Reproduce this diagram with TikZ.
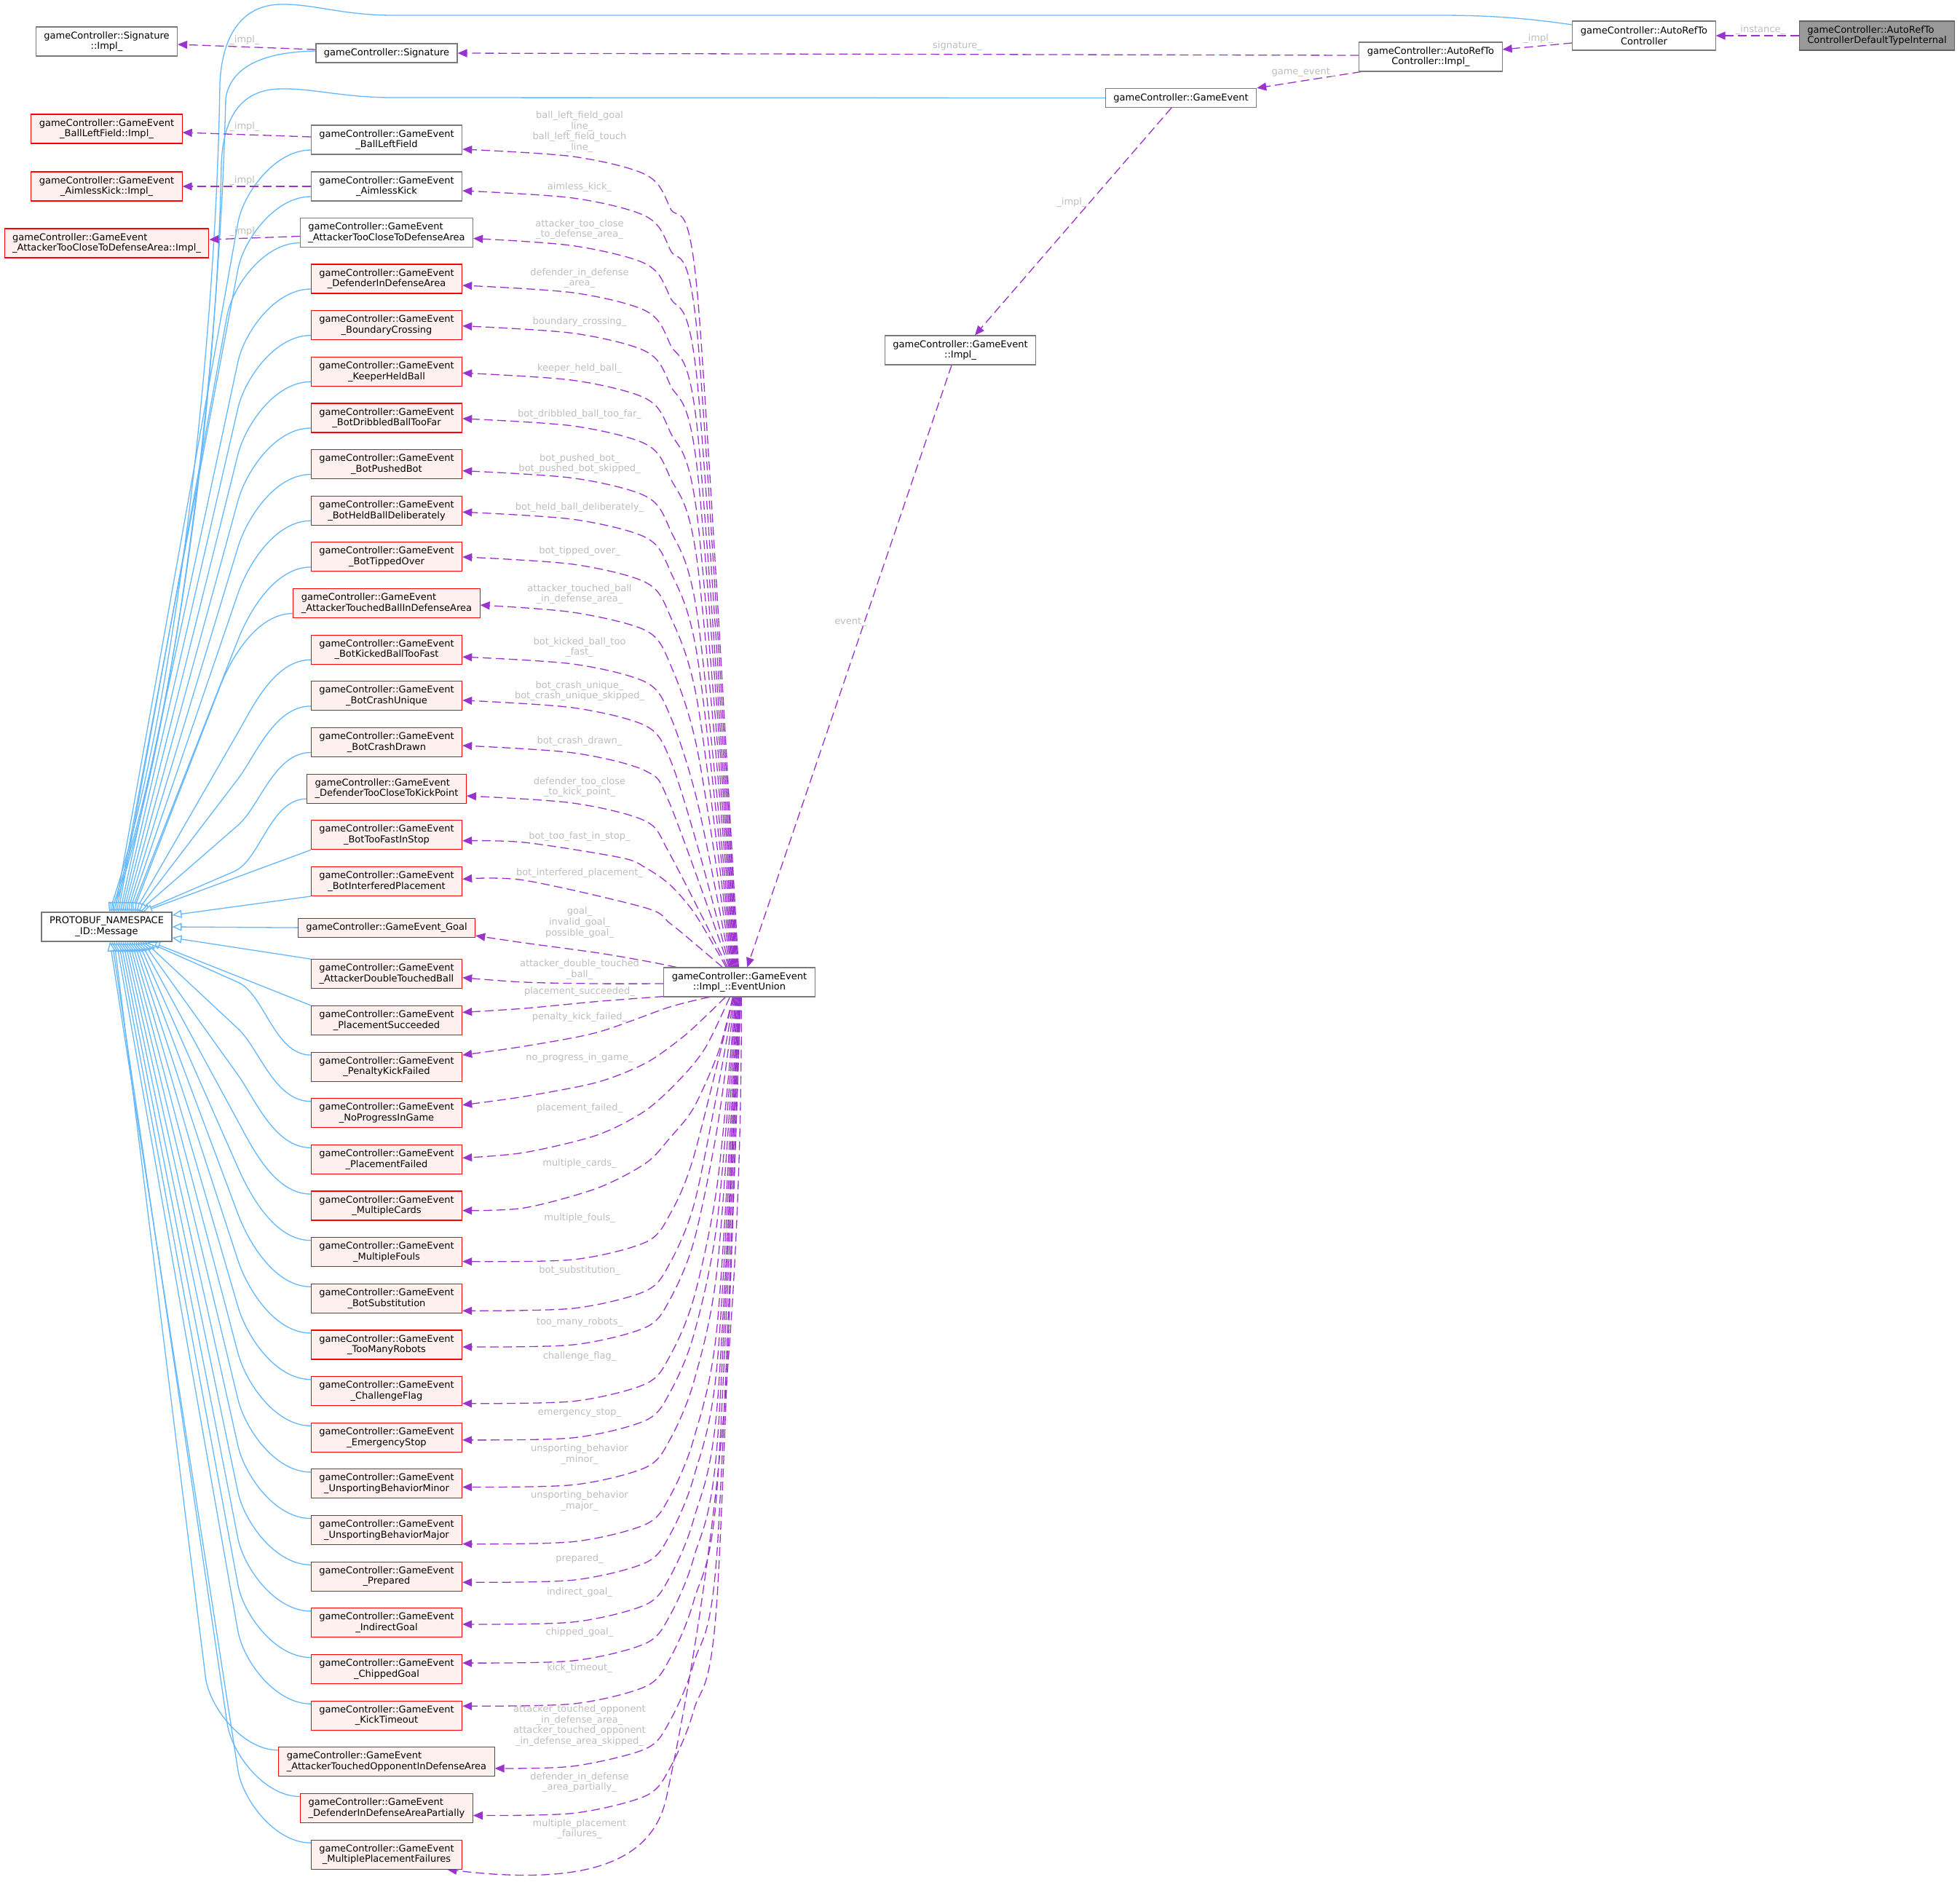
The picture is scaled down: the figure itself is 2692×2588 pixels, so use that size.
\documentclass[tikz,border=0pt]{standalone}
\usepackage{fontspec}
\setmainfont{DejaVu Sans}
\usetikzlibrary{arrows.meta,calc}
\definecolor{purp}{HTML}{9A32CD}
\definecolor{blu}{HTML}{63B8FF}
\definecolor{lblgray}{HTML}{BEBEBE}
\definecolor{boxgray}{HTML}{7A7A7A}
\definecolor{redfill}{HTML}{FFF0F0}
\definecolor{grayfill}{HTML}{999999}
\newcommand\nodefont{\fontsize{6.5}{7.35}\selectfont}
\pgfdeclarelayer{bg}\pgfsetlayers{bg,main}
% blue inheritance edge from an upper node
\newcommand\Bup[2]{%
  \coordinate (w) at ($(#1.west)+(0,14)$);
  \coordinate (t) at ($(pb.north)+(#2,0)$);
  \coordinate (q) at ($(w)+(-100,100)$);
  \draw[inh] (w) .. controls +(-50,0) and ($(q)!-20pt!(t)$) .. (q) -- (t);}
% blue inheritance edge from a lower node
\newcommand\Bdn[2]{%
  \coordinate (w) at ($(#1.west)+(0,-16)$);
  \coordinate (t) at ($(pb.south)+(#2,0)$);
  \coordinate (q) at ($(w)+(-100,-100)$);
  \draw[inh] (w) .. controls +(-50,0) and ($(q)!-20pt!(t)$) .. (q) -- (t);}
% member edge from EventUnion to an upper node
\newcommand\Eup[5]{%
  \coordinate (e) at ($(#1.east)+(0,#2)$);
  \coordinate (s) at ($(eu.north west)+(#4,0)$);
  \ifnum#5=1
    \draw[mem] plot[smooth] coordinates {(s) (958,{#3+200}) (920,{#3+80}) (887,{#3+35}) (787,{#3+10}) (e)};
  \else
    \draw[mem] plot[smooth] coordinates {(s) (920,{#3+80}) (887,{#3+35}) (787,{#3+10}) (e)};
  \fi}
% member edge from EventUnion to a lower node
\newcommand\Edn[5]{%
  \coordinate (e) at ($(#1.east)+(0,#2)$);
  \coordinate (s) at ($(eu.south west)+(#4,0)$);
  \ifnum#5=1
    \draw[mem] plot[smooth] coordinates {(s) (985,{#3-300}) (953,{#3-145}) (920,{#3-65}) (887,{#3-27}) (787,{#3-3}) (e)};
  \else
    \draw[mem] plot[smooth] coordinates {(s) (953,{#3-145}) (920,{#3-65}) (887,{#3-27}) (787,{#3-3}) (e)};
  \fi}
\begin{document}
\begin{tikzpicture}[x=0.5pt,y=-0.5pt,
  box/.style={draw=boxgray, fill=white, line width=0.55pt, align=center, inner xsep=5.5pt, inner ysep=0pt, minimum height=20pt, font=\nodefont},
  redbox/.style={box, draw=red, fill=redfill},
  graybox/.style={box, draw=boxgray!80!black, fill=grayfill},
  one/.style={minimum height=13pt},
  mem/.style={draw=purp, line width=0.65pt, dash pattern=on 6pt off 3pt, -{Triangle[length=6.5pt,width=5.5pt]}},
  inh/.style={draw=blu, line width=0.65pt, -{Triangle[length=6.5pt,width=5.5pt,fill=white]}},
  lbl/.style={text=lblgray, align=center, font=\nodefont, inner sep=0pt}]
\useasboundingbox (0,0) rectangle (2692,2588);
\begin{pgfonlayer}{bg}
\fill[white] (0,0) rectangle (2692,2588);
\end{pgfonlayer}

% ---------- left column ----------
\node[box] (sigimpl) at (146.5,57) {gameController::Signature\\::Impl\_};
\node[redbox] (blfimpl) at (146.5,177) {gameController::GameEvent\\\_BallLeftField::Impl\_};
\node[redbox] (akimpl) at (146.5,256) {gameController::GameEvent\\\_AimlessKick::Impl\_};
\node[redbox,align=left] (atcimpl) at (146.5,334) {gameController::GameEvent\\\_AttackerTooCloseToDefenseArea::Impl\_};
\node[box] (pb) at (146.5,1273) {PROTOBUF\_NAMESPACE\\\_ID::Message};

% ---------- middle column ----------
\node[box,one] (sig) at (531,73) {gameController::Signature};
\node[box] (blf) at (531,192) {gameController::GameEvent\\\_BallLeftField};
\node[box] (ak) at (531,256) {gameController::GameEvent\\\_AimlessKick};
\node[box,align=left] (atc) at (531,319.5) {gameController::GameEvent\\\_AttackerTooCloseToDefenseArea};
\node[redbox] (dida) at (531,383) {gameController::GameEvent\\\_DefenderInDefenseArea};
\node[redbox] (bc) at (531,446.65) {gameController::GameEvent\\\_BoundaryCrossing};
\node[redbox] (khb) at (531,510.3) {gameController::GameEvent\\\_KeeperHeldBall};
\node[redbox] (bdbtf) at (531,573.95) {gameController::GameEvent\\\_BotDribbledBallTooFar};
\node[redbox] (bpb) at (531,637.6) {gameController::GameEvent\\\_BotPushedBot};
\node[redbox] (bhbd) at (531,701.25) {gameController::GameEvent\\\_BotHeldBallDeliberately};
\node[redbox] (bto) at (531,764.9) {gameController::GameEvent\\\_BotTippedOver};
\node[redbox,align=left] (atbida) at (531,828.55) {gameController::GameEvent\\\_AttackerTouchedBallInDefenseArea};
\node[redbox] (bkbtf) at (531,892.2) {gameController::GameEvent\\\_BotKickedBallTooFast};
\node[redbox] (bcu) at (531,955.85) {gameController::GameEvent\\\_BotCrashUnique};
\node[redbox] (bcd) at (531,1019.5) {gameController::GameEvent\\\_BotCrashDrawn};
\node[redbox,align=left] (dtctkp) at (531,1083.15) {gameController::GameEvent\\\_DefenderTooCloseToKickPoint};
\node[redbox] (btfis) at (531,1146.8) {gameController::GameEvent\\\_BotTooFastInStop};
\node[redbox] (bip) at (531,1210.45) {gameController::GameEvent\\\_BotInterferedPlacement};
\node[redbox,one] (goal) at (531,1274.1) {gameController::GameEvent\_Goal};
\node[redbox] (adtb) at (531,1337.75) {gameController::GameEvent\\\_AttackerDoubleTouchedBall};
\node[redbox] (ps) at (531,1401.4) {gameController::GameEvent\\\_PlacementSucceeded};
\node[redbox] (pkf) at (531,1465.05) {gameController::GameEvent\\\_PenaltyKickFailed};
\node[redbox] (npig) at (531,1528.7) {gameController::GameEvent\\\_NoProgressInGame};
\node[redbox] (pf) at (531,1592.35) {gameController::GameEvent\\\_PlacementFailed};
\node[redbox] (mc) at (531,1656) {gameController::GameEvent\\\_MultipleCards};
\node[redbox] (mf) at (531,1719.65) {gameController::GameEvent\\\_MultipleFouls};
\node[redbox] (bs) at (531,1783.3) {gameController::GameEvent\\\_BotSubstitution};
\node[redbox] (tmr) at (531,1846.95) {gameController::GameEvent\\\_TooManyRobots};
\node[redbox] (cf) at (531,1910.6) {gameController::GameEvent\\\_ChallengeFlag};
\node[redbox] (es) at (531,1974.25) {gameController::GameEvent\\\_EmergencyStop};
\node[redbox] (ubmin) at (531,2037.9) {gameController::GameEvent\\\_UnsportingBehaviorMinor};
\node[redbox] (ubmaj) at (531,2101.55) {gameController::GameEvent\\\_UnsportingBehaviorMajor};
\node[redbox] (prep) at (531,2165.2) {gameController::GameEvent\\\_Prepared};
\node[redbox] (ig) at (531,2228.85) {gameController::GameEvent\\\_IndirectGoal};
\node[redbox] (cg) at (531,2292.5) {gameController::GameEvent\\\_ChippedGoal};
\node[redbox] (kt) at (531,2356.15) {gameController::GameEvent\\\_KickTimeout};
\node[redbox,align=left] (atoida) at (531,2419.8) {gameController::GameEvent\\\_AttackerTouchedOpponentInDefenseArea};
\node[redbox,align=left] (didap) at (531,2483.45) {gameController::GameEvent\\\_DefenderInDefenseAreaPartially};
\node[redbox] (mpf) at (531,2547.1) {gameController::GameEvent\\\_MultiplePlacementFailures};

% ---------- right part ----------
\node[box] (eu) at (1015.5,1349) {gameController::GameEvent\\::Impl\_::EventUnion};
\node[box] (geimpl) at (1319,481) {gameController::GameEvent\\::Impl\_};
\node[box,one] (ge) at (1622,134.5) {gameController::GameEvent};
\node[box] (arimpl) at (1965,78) {gameController::AutoRefTo\\Controller::Impl\_};
\node[box] (ar) at (2258,49) {gameController::AutoRefTo\\Controller};
\node[graybox,align=left] (dti) at (2578,49) {gameController::AutoRefTo\\ControllerDefaultTypeInternal};

\begin{pgfonlayer}{bg}
% ---------- blue inheritance edges ----------
\coordinate (a0) at ($(ar.west)+(0,-15)$);
\coordinate (t0) at ($(pb.north)+(3.5,0)$);
\draw[inh] (a0) .. controls (2090,24) and (2040,21) .. (1977,21) -- (540,21)
   .. controls (470,21) and (430,5) .. (385,6)
   .. controls (335,7) and (305,45) .. (302,115)
   .. controls (296,500) and (235,1000) .. (t0);
\coordinate (t1) at ($(pb.north)+(6,0)$);
\draw[inh] (ge.west) -- (540,134)
   .. controls (470,134) and (430,121) .. (385,122)
   .. controls (335,123) and (307,155) .. (304,225)
   .. controls (298,560) and (238,1000) .. (t1);
\coordinate (a2) at ($(sig.west)+(0,-3)$);
\coordinate (t2) at ($(pb.north)+(8.5,0)$);
\draw[inh] (a2) .. controls (375,71) and (318,85) .. (310,135)
   .. controls (301,520) and (240,1000) .. (t2);
\Bup{blf}{11}
\Bup{ak}{13.5}
\Bup{atc}{16}
\Bup{dida}{18.5}
\Bup{bc}{21}
\Bup{khb}{23.5}
\Bup{bdbtf}{26}
\Bup{bpb}{28.5}
\Bup{bhbd}{31}
\Bup{bto}{33.5}
\Bup{atbida}{36}
\Bup{bkbtf}{38.5}
\Bup{bcu}{41}
\Bup{bcd}{43.5}
\Bup{dtctkp}{46}
\draw[inh] (btfis.south west) -- ($(pb.north)+(49.5,0)$);
\draw[inh] (bip.south west) -- ($(pb.east)+(0,-16)$);
\draw[inh] (goal.west) -- (pb.east);
\draw[inh] (adtb.north west) -- ($(pb.east)+(0,15)$);
\draw[inh] (ps.north west) -- ($(pb.south)+(60.5,0)$);
\Bdn{pkf}{55.5}
\Bdn{npig}{52.5}
\Bdn{pf}{49.5}
\Bdn{mc}{46.5}
\Bdn{mf}{43.5}
\Bdn{bs}{40.5}
\Bdn{tmr}{37.5}
\Bdn{cf}{34.5}
\Bdn{es}{31.5}
\Bdn{ubmin}{28.5}
\Bdn{ubmaj}{25.5}
\Bdn{prep}{22.5}
\Bdn{ig}{19.5}
\Bdn{cg}{16.5}
\Bdn{kt}{13.5}
\Bdn{atoida}{10.5}
\Bdn{didap}{7.5}
\Bdn{mpf}{4.5}

% ---------- purple member edges ----------
\draw[mem] (dti.west) -- (ar.east);
\draw[mem] ($(ar.west)+(0,10)$) -- ($(arimpl.east)+(0,-10)$);
\draw[mem] ($(arimpl.west)+(0,-2)$) -- (sig.east);
\draw[mem] ($(arimpl.south west)+(3,0)$) -- (ge.north east);
\draw[mem] ($(ge.south)+(-13,0)$) -- ($(geimpl.north)+(20,0)$);
\draw[mem] ($(geimpl.south)+(-12,0)$) -- ($(eu.north west)+(115,0)$);
\draw[mem] ($(sig.west)+(0,-5)$) -- ($(sigimpl.east)+(0,4)$);
\draw[mem] ($(blf.west)+(0,-4)$) -- ($(blfimpl.east)+(0,5)$);
\draw[mem] (ak.west) -- (akimpl.east);
\draw[mem] ($(atc.west)+(0,5)$) -- ($(atcimpl.east)+(0,-5)$);

\Eup{blf}{13}{205}{103}{1}
\Eup{ak}{6}{262}{102}{1}
\Eup{atc}{8}{327.5}{101}{1}
\Eup{dida}{9}{392}{100}{1}
\Eup{bc}{1}{447.65}{99}{1}
\Eup{khb}{2}{512.3}{98}{1}
\Eup{bdbtf}{1}{575}{97}{1}
\Eup{bpb}{9}{646.6}{96}{1}
\Eup{bhbd}{2}{703.25}{95}{1}
\Eup{bto}{0}{765}{94}{1}
\Eup{atbida}{2.5}{831}{93}{1}
\Eup{bkbtf}{10}{902}{92}{1}
\Eup{bcu}{6}{962}{91}{1}
\Eup{bcd}{4.5}{1024}{90}{0}
\Eup{dtctkp}{10}{1093}{88}{0}
% near nodes
\coordinate (e) at ($(btfis.east)+(0,8)$);
\coordinate (s) at ($(eu.north west)+(86,0)$);
\draw[mem] plot[smooth] coordinates {(s) (987,1310) (953,1253) (920,1215) (887,1192) (853,1178) (720,1157) (e)};
\coordinate (e) at ($(bip.east)+(0,-3)$);
\coordinate (s) at ($(eu.north west)+(81,0)$);
\draw[mem] plot[smooth] coordinates {(s) (953,1295) (920,1268) (887,1247) (720,1209) (e)};
\coordinate (e) at ($(goal.east)+(0,11)$);
\coordinate (s) at ($(eu.north west)+(18,0)$);
\draw[mem] plot[smooth] coordinates {(s) (887,1320) (820,1308.6) (720,1295) (e)};
\coordinate (e) at ($(adtb.east)+(0,5)$);
\coordinate (s) at ($(eu.west)+(0,2)$);
\draw[mem] plot[smooth] coordinates {(s) (820,1351) (720,1349) (e)};
\coordinate (e) at ($(ps.east)+(0,-11)$);
\coordinate (s) at ($(eu.south west)+(0,-1)$);
\draw[mem] plot[smooth] coordinates {(s) (820,1375.5) (720,1385) (e)};
\coordinate (e) at ($(pkf.east)+(0,-16)$);
\coordinate (s) at ($(eu.south west)+(63,0)$);
\draw[mem] plot[smooth] coordinates {(s) (920,1383) (820,1418) (720,1437) (e)};
\coordinate (e) at ($(npig.east)+(0,-11)$);
\coordinate (s) at ($(eu.south west)+(85,0)$);
\draw[mem] plot[smooth] coordinates {(s) (970,1395) (937,1425) (887,1460) (820,1486.5) (720,1506) (e)};
\coordinate (e) at ($(pf.east)+(0,-2)$);
\coordinate (s) at ($(eu.south west)+(91,0)$);
\draw[mem] plot[smooth] coordinates {(s) (970,1437) (937,1479) (887,1525) (820,1559) (720,1583) (e)};
\coordinate (e) at ($(mc.east)+(0,6.6)$);
\coordinate (s) at ($(eu.south west)+(95,0)$);
\draw[mem] plot[smooth] coordinates {(s) (987,1444) (953,1521) (920,1563) (887,1597.5) (820,1632) (720,1659) (e)};
\Edn{mf}{13}{1733}{96}{0}
\Edn{bs}{17}{1800}{97}{1}
\Edn{tmr}{3}{1850}{98}{1}
\Edn{cf}{17}{1927.6}{99}{1}
\Edn{es}{3.5}{1977.75}{100}{1}
\Edn{ubmin}{4.5}{2042.4}{101}{1}
\Edn{ubmaj}{19}{2120.5}{102}{1}
\Edn{prep}{8}{2173.2}{103}{1}
\Edn{ig}{2}{2230.85}{104}{1}
\Edn{cg}{-8.5}{2284}{104}{1}
\Edn{kt}{-13}{2343.15}{105}{1}
\Edn{atoida}{9}{2428.8}{106}{1}
\Edn{didap}{10}{2493.45}{106}{1}
\coordinate (e) at ($(mpf.south east)+(-21,0)$);
\coordinate (s) at ($(eu.south west)+(107,0)$);
\draw[mem] (s) .. controls (1019,1900) and (962,2250) .. (915,2470)
   .. controls (895,2560) and (800,2590) .. (e);
\end{pgfonlayer}

% ---------- edge labels ----------
\node[lbl] at (2418,41) {\_instance\_};
\node[lbl] at (2113,53) {\_impl\_};
\node[lbl] at (1315,63) {signature\_};
\node[lbl] at (1790,99) {game\_event\_};
\node[lbl] at (1472,278) {\_impl\_};
\node[lbl] at (1168,854) {event\_};
\node[lbl] at (336,55) {\_impl\_};
\node[lbl] at (336,174) {\_impl\_};
\node[lbl] at (336,248) {\_impl\_};
\node[lbl] at (336,318) {\_impl\_};

\node[lbl] at (796,181) {ball\_left\_field\_goal\\\_line\_\\ball\_left\_field\_touch\\\_line\_};
\node[lbl] at (796,257) {aimless\_kick\_};
\node[lbl] at (796,315) {attacker\_too\_close\\\_to\_defense\_area\_};
\node[lbl] at (796,382) {defender\_in\_defense\\\_area\_};
\node[lbl] at (796,442) {boundary\_crossing\_};
\node[lbl] at (796,506) {keeper\_held\_ball\_};
\node[lbl] at (796,569) {bot\_dribbled\_ball\_too\_far\_};
\node[lbl] at (796,637) {bot\_pushed\_bot\_\\bot\_pushed\_bot\_skipped\_};
\node[lbl] at (796,697) {bot\_held\_ball\_deliberately\_};
\node[lbl] at (796,757) {bot\_tipped\_over\_};
\node[lbl] at (796,816) {attacker\_touched\_ball\\\_in\_defense\_area\_};
\node[lbl] at (796,889) {bot\_kicked\_ball\_too\\\_fast\_};
\node[lbl] at (796,949) {bot\_crash\_unique\_\\bot\_crash\_unique\_skipped\_};
\node[lbl] at (796,1018) {bot\_crash\_drawn\_};
\node[lbl] at (796,1081) {defender\_too\_close\\\_to\_kick\_point\_};
\node[lbl] at (796,1149) {bot\_too\_fast\_in\_stop\_};
\node[lbl] at (796,1199.5) {bot\_interfered\_placement\_};
\node[lbl] at (796,1267) {goal\_\\invalid\_goal\_\\possible\_goal\_};
\node[lbl] at (796,1331.5) {attacker\_double\_touched\\\_ball\_};
\node[lbl] at (796,1362) {placement\_succeeded\_};
\node[lbl] at (796,1396.6) {penalty\_kick\_failed\_};
\node[lbl] at (796,1453) {no\_progress\_in\_game\_};
\node[lbl] at (796,1522) {placement\_failed\_};
\node[lbl] at (796,1598) {multiple\_cards\_};
\node[lbl] at (796,1673) {multiple\_fouls\_};
\node[lbl] at (796,1744.8) {bot\_substitution\_};
\node[lbl] at (796,1815.6) {too\_many\_robots\_};
\node[lbl] at (796,1863.4) {challenge\_flag\_};
\node[lbl] at (796,1940) {emergency\_stop\_};
\node[lbl] at (796,1997.4) {unsporting\_behavior\\\_minor\_};
\node[lbl] at (796,2061.6) {unsporting\_behavior\\\_major\_};
\node[lbl] at (796,2140.9) {prepared\_};
\node[lbl] at (796,2187) {indirect\_goal\_};
\node[lbl] at (796,2242) {chipped\_goal\_};
\node[lbl] at (796,2291) {kick\_timeout\_};
\node[lbl] at (796,2370) {attacker\_touched\_opponent\\\_in\_defense\_area\_\\attacker\_touched\_opponent\\\_in\_defense\_area\_skipped\_};
\node[lbl] at (796,2448) {defender\_in\_defense\\\_area\_partially\_};
\node[lbl] at (796,2512) {multiple\_placement\\\_failures\_};
\end{tikzpicture}
\end{document}
